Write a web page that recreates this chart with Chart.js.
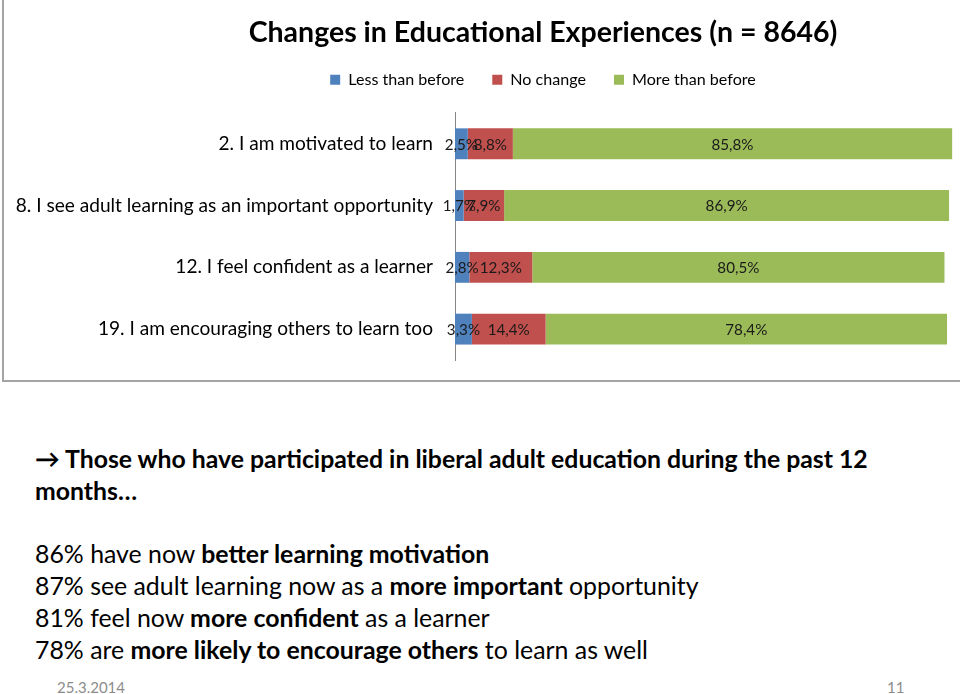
<!DOCTYPE html>
<html>
<head>
<meta charset="utf-8">
<script src="https://cdn.jsdelivr.net/npm/chart.js@4.4.1/dist/chart.umd.min.js"></script>
<style>
  html, body { margin: 0; padding: 0; background: #fff; }
  body { width: 960px; height: 694px; overflow: hidden; position: relative; font-family: Lato, 'Liberation Sans', sans-serif; }
  #box { position: absolute; left: 2px; top: -10px; width: 1100px; height: 392px; border: 2px solid #a5a5a5; box-sizing: border-box; }
  #chart { position: absolute; left: 0; top: 0; }
  .txt { position: absolute; left: 35px; line-height: 32px; color: #000; white-space: nowrap; }
  .foot { position: absolute; top: 679px; line-height: 16px; font-size: 15px; color: #8c8c8c; white-space: nowrap; }
</style>
</head>
<body>
<div id="box"></div>
<canvas id="chart" width="1086" height="400"></canvas>

<div id="lead" class="txt" style="top:443px;font-weight:bold;"><span id="leadLine">→ Those who have participated in liberal adult education during the past 12</span><br>months…</div>
<div id="points" class="txt" style="top:537px;">
  <span>86% have now <b>better learning motivation</b></span><br>
  <span id="fitLine">87% see adult learning now as a <b>more important</b> opportunity</span><br>
  <span>81% feel now <b>more confident</b> as a learner</span><br>
  <span>78% are <b>more likely to encourage others</b> to learn as well</span>
</div>
<div class="foot" style="left:57px;">25.3.2014</div>
<div class="foot" style="left:887px;">11</div>

<script>
// chart data
const chartTitle = 'Changes in Educational Experiences (n = 8646)';
const categories = [
  '2. I am motivated to learn',
  '8. I see adult learning as an important opportunity',
  '12. I feel confident as a learner',
  '19. I am encouraging others to learn too'
];
const seriesNames = ['Less than before', 'No change', 'More than before'];
const lessThanBefore = [2.5, 1.7, 2.8, 3.3];
const noChange = [8.8, 7.9, 12.3, 14.4];
const moreThanBefore = [85.8, 86.9, 80.5, 78.4];
const seriesColors = ['#4F81BD', '#C0504D', '#9BBB59'];

const FONT = 'Lato';

// pick a font size so a text gets a given width
const measureCtx = document.createElement('canvas').getContext('2d');
function fitSize(text, weight, width) {
  measureCtx.font = weight + ' 100px ' + FONT;
  return Math.round(1000 * width / measureCtx.measureText(text).width) / 10;
}
function fitBlock(block, span, width) {
  block.style.fontSize = '20px';
  const w = span.getBoundingClientRect().width;
  block.style.fontSize = (20 * width / w) + 'px';
}

const titleSize = fitSize(chartTitle, 'bold', 589);
const tickSize = fitSize(categories[1], 'normal', 417);
const legendSize = fitSize(seriesNames[0], 'normal', 116);
const valueSize = fitSize('85,8%', 'normal', 42);

Chart.defaults.font.family = FONT + ', sans-serif';

// percentage labels in the middle of each segment
const valueLabels = {
  id: 'valueLabels',
  afterDatasetsDraw(chart) {
    const ctx = chart.ctx;
    ctx.save();
    ctx.font = valueSize + 'px ' + FONT;
    ctx.fillStyle = '#1a1a1a';
    ctx.textAlign = 'center';
    ctx.textBaseline = 'middle';
    chart.data.datasets.forEach((ds, i) => {
      chart.getDatasetMeta(i).data.forEach((bar, j) => {
        const txt = ds.data[j].toFixed(1).replace('.', ',') + '%';
        ctx.fillText(txt, (bar.x + bar.base) / 2, bar.y + 1);
      });
    });
    ctx.restore();
  }
};

const seriesData = [lessThanBefore, noChange, moreThanBefore];

new Chart(document.getElementById('chart').getContext('2d'), {
  type: 'bar',
  data: {
    labels: categories,
    datasets: seriesNames.map((name, i) => ({
      label: name,
      data: seriesData[i],
      backgroundColor: seriesColors[i],
      borderWidth: 0,
      categoryPercentage: 1,
      barPercentage: 0.5
    }))
  },
  options: {
    indexAxis: 'y',
    responsive: false,
    animation: false,
    devicePixelRatio: 1,
    layout: { padding: { left: 0, right: 0, top: 0, bottom: 40 } },
    plugins: {
      title: {
        display: true,
        text: chartTitle,
        color: '#000',
        font: { size: titleSize, weight: 'bold', lineHeight: 0.8 },
        padding: { top: 21, bottom: 0 }
      },
      legend: {
        position: 'top',
        labels: {
          boxWidth: 10,
          boxHeight: 10,
          padding: 28,
          color: '#000',
          font: { size: legendSize }
        }
      },
      tooltip: { enabled: false }
    },
    scales: {
      x: {
        stacked: true, min: 0, max: 100, position: 'top',
        grid: { display: false }, border: { display: false }, ticks: { display: false },
        afterFit(scale) { scale.height = 15; }
      },
      y: {
        stacked: true,
        grid: { display: false, drawTicks: false },
        border: { display: true, color: '#868686', width: 1 },
        ticks: { color: '#000', padding: 22, font: { size: tickSize } },
        afterFit(scale) { scale.width = 455; }
      },
      // empty right side of the chart box, keeps the title centred like the original
      y2: {
        type: 'category', position: 'right',
        grid: { display: false, drawTicks: false }, border: { display: false }, ticks: { display: false },
        afterFit(scale) { scale.width = 119; }
      }
    }
  },
  plugins: [valueLabels]
});

fitBlock(document.getElementById('lead'), document.getElementById('leadLine'), 833);
fitBlock(document.getElementById('points'), document.getElementById('fitLine'), 664);
</script>
</body>
</html>
